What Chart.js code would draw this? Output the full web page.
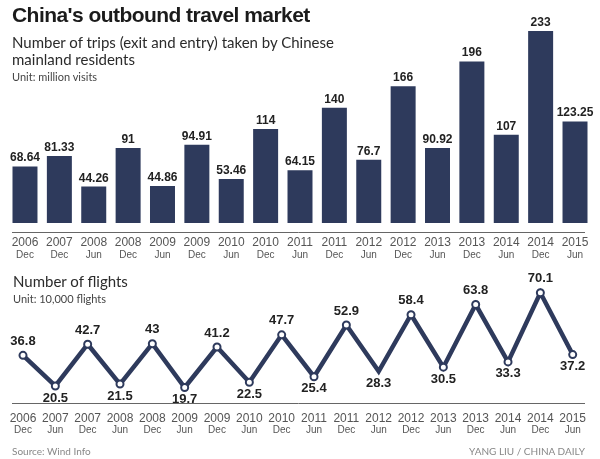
<!DOCTYPE html>
<html lang="en">
<head>
<meta charset="UTF-8">
<title>China's outbound travel market</title>
<script src="https://cdn.jsdelivr.net/npm/chart.js"></script>
<style>
  body { margin: 0; background: #fff; width: 600px; height: 459px; position: relative; overflow: hidden; }
  .t { position: absolute; left: 12px; white-space: nowrap; color: #222; }
  #title { top: 3px; font: 900 21px/24px "Liberation Sans", Arial, sans-serif; color: #1b1b1b; letter-spacing: -0.55px; }
  #sub { top: 34px; font: 15px/17px Lato, sans-serif; color: #2b2b2b; }
  #unit1 { top: 70px; font: 11px/13px Lato, sans-serif; color: #444; }
  #flights { top: 272px; left: 13px; font: 15px/18px Lato, sans-serif; color: #2b2b2b; }
  #unit2 { top: 292px; left: 13px; font: 11px/13px Lato, sans-serif; color: #444; }
  #source { top: 445px; font: 10px/12px Lato, sans-serif; color: #888; }
  #credit { top: 445px; left: auto; right: 15px; font: 10px/12px Lato, sans-serif; color: #888; }
  canvas { position: absolute; left: 0; }
  #barChart { top: 0; }
  #lineChart { top: 262px; }
</style>
</head>
<body>
<canvas id="barChart" width="600" height="262"></canvas>
<canvas id="lineChart" width="600" height="197"></canvas>
<div class="t" id="title">China's outbound travel market</div>
<div class="t" id="sub">Number of trips (exit and entry) taken by Chinese<br>mainland residents</div>
<div class="t" id="unit1">Unit: million visits</div>
<div class="t" id="flights">Number of flights</div>
<div class="t" id="unit2">Unit: 10,000 flights</div>
<div class="t" id="source">Source: Wind Info</div>
<div class="t" id="credit">YANG LIU / CHINA DAILY</div>

<script>
// trips, half-year periods
const tripYears  = ['2006','2007','2008','2008','2009','2009','2010','2010','2011','2011','2012','2012','2013','2013','2014','2014','2015'];
const tripMonths = ['Dec','Dec','Jun','Dec','Jun','Dec','Jun','Dec','Jun','Dec','Jun','Dec','Jun','Dec','Jun','Dec','Jun'];
const tripValues = [68.64, 81.33, 44.26, 91, 44.86, 94.91, 53.46, 114, 64.15, 140, 76.7, 166, 90.92, 196, 107, 233, 123.25];

// flights
const flightYears  = ['2006','2007','2007','2008','2008','2009','2009','2010','2010','2011','2011','2012','2012','2013','2013','2014','2014','2015'];
const flightMonths = ['Dec','Jun','Dec','Jun','Dec','Jun','Dec','Jun','Dec','Jun','Dec','Jun','Dec','Jun','Dec','Jun','Dec','Jun'];
const flightValues = [36.8, 20.5, 42.7, 21.5, 43, 19.7, 41.2, 22.5, 47.7, 25.4, 52.9, 28.3, 58.4, 30.5, 63.8, 33.3, 70.1, 37.2];

const NAVY = '#2e3a5c';
const TICK_FONT = '12px "Liberation Sans", sans-serif';
const MONTH_FONT = '10px "Liberation Sans", sans-serif';

// axis line + two-line tick labels under a chart
function drawAxis(chart, years, months, lineGap, yearGap, monthGap) {
    const { ctx, chartArea, scales: { x } } = chart;
    const base = chartArea.bottom;
    ctx.save();
    ctx.strokeStyle = '#666';
    ctx.lineWidth = 1;
    ctx.beginPath();
    ctx.moveTo(12, Math.round(base + lineGap) + 0.5);
    ctx.lineTo(585, Math.round(base + lineGap) + 0.5);
    ctx.stroke();
    ctx.fillStyle = '#555';
    ctx.textAlign = 'center';
    ctx.textBaseline = 'middle';
    years.forEach((yr, i) => {
        const px = x.getPixelForValue(i);
        ctx.font = TICK_FONT;
        ctx.fillText(yr, px, base + yearGap);
        ctx.font = MONTH_FONT;
        ctx.fillText(months[i], px, base + monthGap);
    });
    ctx.restore();
}

const barExtras = {
    id: 'barExtras',
    afterDatasetsDraw(chart) {
        const { ctx } = chart;
        const meta = chart.getDatasetMeta(0);
        ctx.save();
        ctx.font = 'bold 12px "Liberation Sans", sans-serif';
        ctx.fillStyle = '#222';
        ctx.textAlign = 'center';
        ctx.textBaseline = 'alphabetic';
        meta.data.forEach((bar, i) => {
            ctx.fillText(String(tripValues[i]), bar.x, bar.y - 5);
        });
        ctx.restore();
        drawAxis(chart, tripYears, tripMonths, 9, 20, 32);
    }
};

const lineExtras = {
    id: 'lineExtras',
    afterDatasetsDraw(chart) {
        const { ctx } = chart;
        const meta = chart.getDatasetMeta(0);
        ctx.save();
        ctx.font = 'bold 13px "Liberation Sans", sans-serif';
        ctx.fillStyle = '#222';
        ctx.textAlign = 'center';
        ctx.textBaseline = 'middle';
        meta.data.forEach((pt, i) => {
            const above = i % 2 === 0;
            ctx.fillText(String(flightValues[i]), pt.x, above ? pt.y - 14 : pt.y + 12);
        });
        ctx.restore();
        drawAxis(chart, flightYears, flightMonths, 7, 22, 34);
    }
};

new Chart(document.getElementById('barChart').getContext('2d'), {
    type: 'bar',
    data: {
        labels: tripYears.map((y, i) => y + ' ' + tripMonths[i]),
        datasets: [{
            data: tripValues,
            backgroundColor: NAVY,
            barPercentage: 0.727,
            categoryPercentage: 1
        }]
    },
    options: {
        responsive: false,
        animation: false,
        layout: { padding: { left: 7.8, right: 7.8, top: 17, bottom: 39 } },
        plugins: { legend: { display: false }, tooltip: { enabled: false } },
        scales: {
            x: { display: false },
            y: { display: false, min: 0, max: 250 }
        }
    },
    plugins: [barExtras]
});

new Chart(document.getElementById('lineChart').getContext('2d'), {
    type: 'line',
    data: {
        labels: flightYears.map((y, i) => y + ' ' + flightMonths[i]),
        datasets: [{
            data: flightValues,
            borderColor: NAVY,
            borderWidth: 4.5,
            pointRadius: flightValues.map((v, i) => i === 11 ? 0 : 3.5),
            pointBackgroundColor: '#fff',
            pointBorderColor: NAVY,
            pointBorderWidth: 2,
            tension: 0,
            clip: false
        }]
    },
    options: {
        responsive: false,
        animation: false,
        layout: { padding: { left: 23, right: 27.3, top: 21.5, bottom: 62.7 } },
        plugins: { legend: { display: false }, tooltip: { enabled: false } },
        scales: {
            x: { display: false },
            y: { display: false, min: 15, max: 75 }
        }
    },
    plugins: [lineExtras]
});
</script>
</body>
</html>
